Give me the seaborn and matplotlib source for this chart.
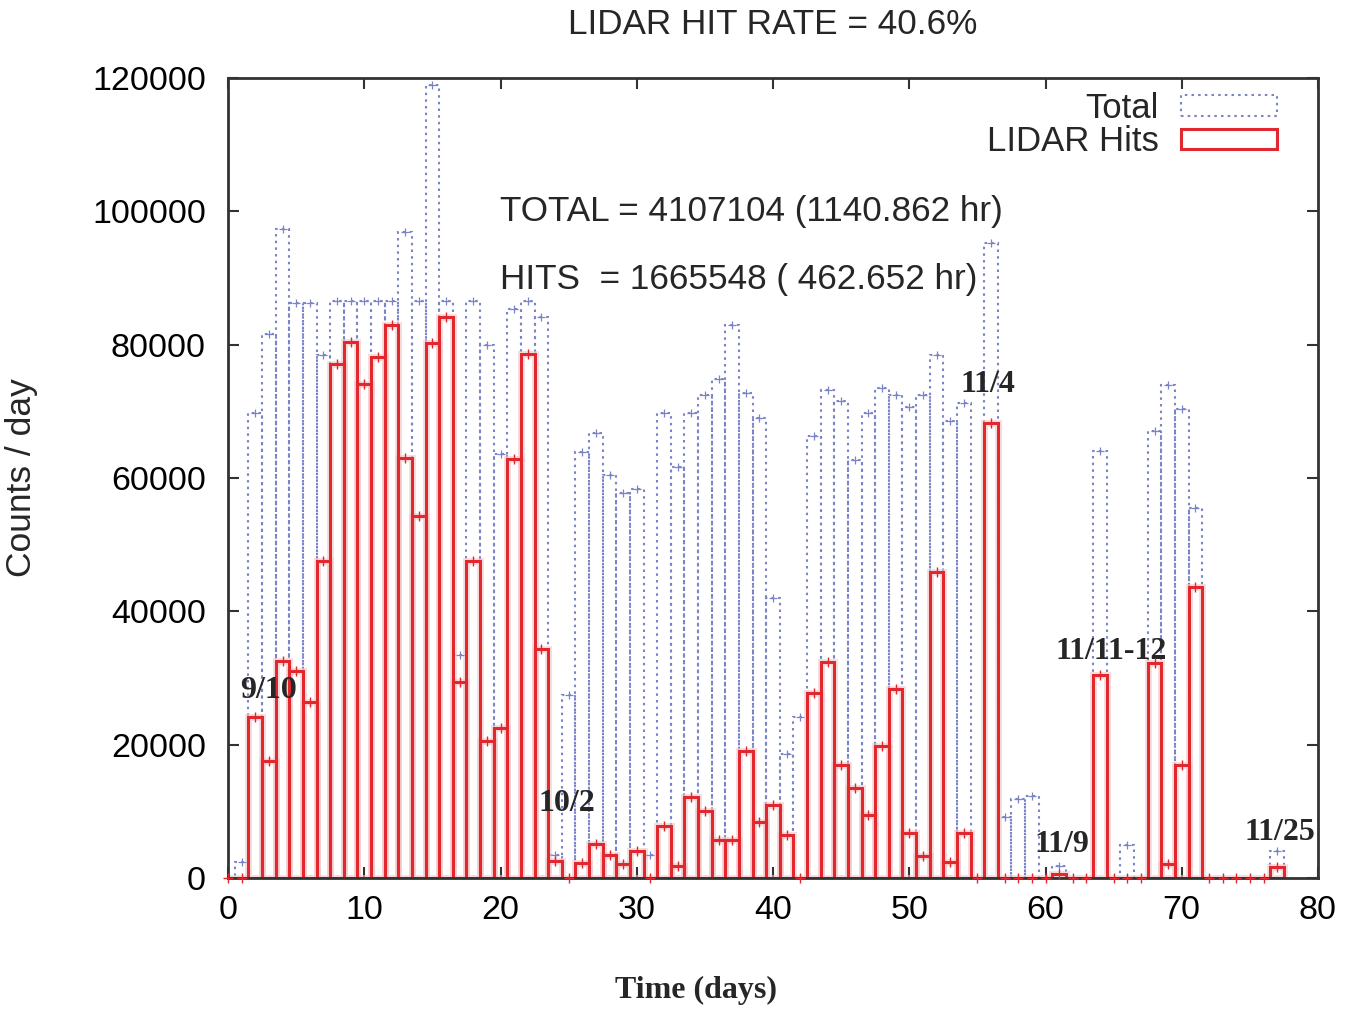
import numpy as np
import pandas as pd
import matplotlib
matplotlib.use("Agg")
import matplotlib.pyplot as plt
import seaborn as sns
from matplotlib.patches import Rectangle

# daily counts, bin centred on the day number
days = list(range(78))
total_counts = [
    0, 2400, 69800, 81600, 97300, 86300, 86300, 78400, 86500, 86500,
    86500, 86500, 86500, 96900, 86500, 119000, 86500, 33500, 86500, 80000,
    63600, 85300, 86500, 84200, 3500, 27500, 63900, 66800, 60500, 57800,
    58400, 3400, 69800, 61600, 69800, 72500, 74900, 83000, 72800, 69000,
    42000, 18600, 24100, 66300, 73200, 71600, 62700, 69800, 73500, 72400,
    70600, 72400, 78400, 68600, 71200, 0, 95300, 9200, 11900, 12300,
    0, 1800, 0, 0, 64100, 0, 5000, 0, 67100, 73900,
    70400, 55500, 0, 0, 0, 0, 0, 4100,
]
hit_counts = [
    0, 0, 24100, 17500, 32500, 31000, 26400, 47500, 77100, 80400,
    74100, 78200, 83000, 63000, 54300, 80200, 84100, 29400, 47600, 20500,
    22500, 62800, 78600, 34300, 2500, 0, 2300, 5100, 3500, 2100,
    4100, 0, 7800, 1800, 12200, 10000, 5700, 5700, 19100, 8400,
    11000, 6500, 0, 27700, 32400, 16900, 13500, 9400, 19800, 28400,
    6700, 3300, 45900, 2400, 6700, 0, 68200, 0, 0, 0,
    0, 550, 0, 0, 30400, 0, 0, 0, 32200, 2100,
    17000, 43600, 0, 0, 0, 0, 0, 1600,
]

date_labels = ["9/10", "10/2", "11/4", "11/9", "11/11-12", "11/25"]
date_x = [3.0, 24.9, 55.8, 61.2, 64.8, 77.2]
date_y = [28200, 11200, 74000, 5000, 34000, 6900]

df = pd.DataFrame({"day": days, "total": total_counts, "hits": hit_counts})

blue = "#7b84c6"
red = "#e0282e"

sns.set_style("ticks")
plt.rcParams["font.family"] = ["Liberation Sans", "DejaVu Sans"]
serif_bold = {"family": ["Liberation Serif", "DejaVu Serif"], "weight": "bold"}

fig = plt.figure(figsize=(13.55, 10.10), dpi=100)
ax = fig.add_axes([228 / 1355, 1 - 878 / 1010, 1090 / 1355, 800 / 1010])

sns.histplot(data=df, x="day", weights="total", discrete=True, fill=False,
             element="bars", color=blue, linestyle=(0, (1.2, 2.0)),
             linewidth=1.5, ax=ax)
# soft glow under the red boxes
sns.histplot(data=df, x="day", weights="hits", discrete=True, fill=False,
             element="bars", color="#f6c8ca", linewidth=5, alpha=0.6, ax=ax)
sns.histplot(data=df, x="day", weights="hits", discrete=True, fill=False,
             element="bars", color=red, linewidth=2.2, ax=ax)
sns.scatterplot(data=df, x="day", y="hits", marker="+", color=red, s=45,
                linewidth=1.0, legend=False, zorder=5, clip_on=False, ax=ax)
sns.scatterplot(data=df[df["total"] > 0], x="day", y="total", marker="+",
                color=blue, s=30, linewidth=0.9, legend=False, ax=ax)

ax.set_xlim(0, 80)
ax.set_ylim(0, 120000)
ax.set_xticks(range(0, 81, 10))
ax.set_yticks(range(0, 120001, 20000))
ax.set_xlabel("")
ax.set_ylabel("")
ax.tick_params(direction="in", length=8, width=1.5, labelsize=24.5,
               top=True, right=True, colors="#333333", labelcolor="black")
ax.tick_params(axis="y", pad=16)
ax.tick_params(axis="x", pad=12)
for s in ax.spines.values():
    s.set_linewidth(2)
    s.set_color("#333333")

ax.text(20, 99900, "TOTAL = 4107104 (1140.862 hr)", fontsize=25.3, va="center")
ax.text(20, 89700, "HITS  = 1665548 ( 462.652 hr)", fontsize=25.3, va="center")

for lab, x, y in zip(date_labels, date_x, date_y):
    ax.text(x, y, lab, fontsize=23, fontdict=serif_bold, ha="center", va="center")

handles = [
    Rectangle((0, 0), 1, 1, fill=False, edgecolor=blue, linestyle=(0, (1.2, 2.0)), linewidth=1.5),
    Rectangle((0, 0), 1, 1, fill=False, edgecolor=red, linewidth=2.2),
]
ax.legend(handles, ["Total", "LIDAR Hits"], loc="upper right",
          bbox_to_anchor=(0.962, 0.983), frameon=False, markerfirst=False,
          fontsize=25, handlelength=2.75, handleheight=0.55, handletextpad=0.65,
          labelspacing=0.02, borderaxespad=0, borderpad=0)

fig.text(773 / 1355, 1 - 25 / 1010, "LIDAR HIT RATE = 40.6%", fontsize=25.3,
         ha="center", va="center")
fig.text(22 / 1355, 1 - 478 / 1010, "Counts / day", fontsize=25.5,
         rotation=90, ha="center", va="center")
fig.text(696 / 1355, 1 - 990 / 1010, "Time (days)", fontsize=23,
         fontdict=serif_bold, ha="center", va="center")

fig.savefig("out.png", dpi=100)
plt.close(fig)
